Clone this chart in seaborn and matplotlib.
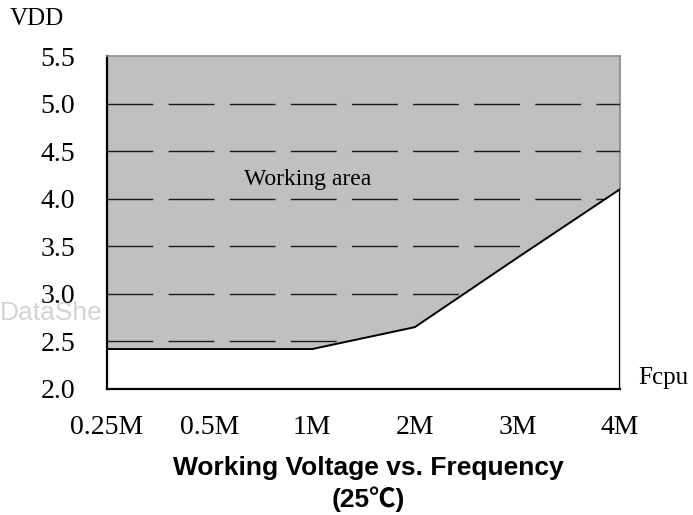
import numpy as np
import matplotlib
matplotlib.use("Agg")
import matplotlib.pyplot as plt
import seaborn as sns

# data
freq_labels = ['0.25M', '0.5M', '1M', '2M', '3M', '4M']
vdd_min = [2.42, 2.42, 2.42, 2.65, 3.38, 4.1]
y_ticks = [2.0, 2.5, 3.0, 3.5, 4.0, 4.5, 5.0, 5.5]
grid_levels = [2.5, 3.0, 3.5, 4.0, 4.5, 5.0]

sns.set_style("white")
plt.rcParams['font.family'] = ['Liberation Serif', 'DejaVu Serif']
plt.rcParams['text.color'] = 'black'
plt.rcParams['xtick.labelcolor'] = 'black'
plt.rcParams['ytick.labelcolor'] = 'black'

W, H = 693, 515
fig = plt.figure(figsize=(W / 100, H / 100), dpi=100)
ax = fig.add_axes([107 / W, 1 - 389 / H, (620 - 107) / W, (389 - 56) / H])

x = np.arange(len(freq_labels))
ymin, ymax = y_ticks[0], y_ticks[-1]

# working area
ax.fill_between(x, vdd_min, ymax, color='#c0c0c0', lw=0, zorder=0)
for g in grid_levels:
    ax.axhline(g, color='#1a1a1a', lw=1, ls=(0, (33, 11)), zorder=1)
ax.fill_between(x, ymin, vdd_min, color='white', lw=0, zorder=2)

sns.lineplot(x=x, y=vdd_min, ax=ax, color='black', lw=1.4, zorder=3)
ax.vlines(x[-1], ymin, vdd_min[-1], color='black', lw=1.6, zorder=3)

ax.set_xlim(x[0], x[-1])
ax.set_ylim(ymin, ymax)
ax.set_xticks(x)
ax.set_xticklabels(freq_labels)
ax.set_yticks(y_ticks)
ax.set_yticklabels(['%.1f' % v for v in y_ticks])
ax.tick_params(axis='x', direction='in', length=7, width=1, color='black',
               pad=19, labelsize=20)
ax.tick_params(axis='y', length=0, pad=23, labelsize=20)

for s in ['left', 'bottom']:
    ax.spines[s].set_color('black')
    ax.spines[s].set_linewidth(1.6)
for s in ['top', 'right']:
    ax.spines[s].set_color('#8a8a8a')
    ax.spines[s].set_linewidth(1.2)
ax.spines['right'].set_zorder(0)

ax.text(1.96, 4.2, 'Working area', fontsize=17, ha='center', va='center', zorder=4)

fig.text(10 / W, 1 - 19 / H, 'VDD', fontsize=18, ha='left', va='center')
fig.text(638 / W, 1 - 378 / H, 'Fcpu', fontsize=18, ha='left', va='center')
fig.text(0, 1 - 313 / H, 'DataShe', fontsize=19, color='#d4d4d4',
         family=['Liberation Sans', 'DejaVu Sans'], ha='left', va='center', zorder=-1)

fig.text(368 / W, 1 - 468 / H, 'Working Voltage vs. Frequency', fontsize=19,
         fontweight='bold', family=['Liberation Sans', 'DejaVu Sans'],
         ha='center', va='center')
fig.text(368 / W, 1 - 499 / H, '(25℃)', fontsize=19, fontweight='bold',
         family=['Liberation Sans', 'Noto Sans CJK SC', 'DejaVu Sans'],
         ha='center', va='center')

fig.savefig('out.png', dpi=100)
